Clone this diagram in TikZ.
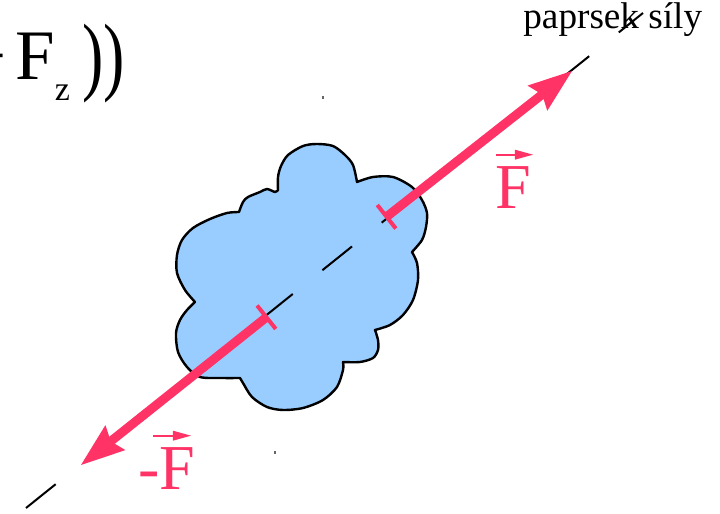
\documentclass[tikz,border=0pt]{standalone}
\usepackage{fontspec}
\setmainfont{Liberation Serif}
\usetikzlibrary{arrows.meta,calc}
\definecolor{forcered}{HTML}{FF3366}
\definecolor{bodyblue}{HTML}{99CCFF}

\begin{document}
\begin{tikzpicture}[
    x=0.5pt, y=-0.5pt,
    body/.style={draw=black, line width=1.2pt, fill=bodyblue, line join=round},
    ray/.style={draw=black, line width=1pt, dash pattern=on 19pt off 19pt},
    force/.style={draw=forcered, line width=4.5pt, {Bar[width=15pt,line width=2pt]}-{Stealth[length=22pt,width=16pt,inset=3pt,line width=0pt]}},
    forcelabel/.style={text=forcered, font=\fontsize{32}{34}\selectfont, inner sep=0pt},
    vecarrow/.style={draw=forcered, line width=1pt, -{Triangle[length=9pt,width=5pt,line width=0pt]}},
    speck/.style={fill=black!60}
]
    \useasboundingbox (0,0) rectangle (720,514);
    \clip (0,0) rectangle (720,514);

    \draw[body] plot[smooth] coordinates {(278,190) (278,177) (281,166) (288,155) (303,146) (317,144) (333,146) (345,155) (353,165) (357,182)}
        -- plot[smooth] coordinates {(357,182) (373,177) (393,177) (412,187) (422,200) (427,213) (426,227) (422,240) (412,252)}
        -- plot[smooth] coordinates {(412,252) (417,263) (418,280) (413,300) (403,315) (390,325) (375,330)}
        -- plot[smooth] coordinates {(375,330) (378,340) (378,350) (373,358) (360,362) (343,362)}
        -- plot[smooth] coordinates {(343,362) (343,370) (337,387) (323,400) (303,408) (283,410) (267,407) (252,397) (243,383) (240,378)}
        -- plot[smooth] coordinates {(240,378) (222,378) (200,377) (187,367) (178,352) (176,333) (180,320) (187,310) (195,302)}
        -- plot[smooth] coordinates {(195,302) (185,290) (177,273) (177,255) (182,240) (193,228) (210,219) (227,213) (239,212)}
        -- plot[smooth] coordinates {(239,212) (243,202) (248,197) (260,192) (267,189) (275,192) (278,190)}
        -- cycle;

    \coordinate (rayA) at (26,508);
    \coordinate (rayB) at (643,13);
    \coordinate (fA) at (385,218);
    \coordinate (fB) at (572,71);
    \coordinate (mfA) at (268,316);
    \coordinate (mfB) at (81,465);

    \node[anchor=base west, inner sep=0pt, font=\fontsize{18.6}{20}\selectfont] (raylabel) at (523,29) {paprsek síly};
    \node[anchor=base west, inner sep=0pt, font=\fontsize{35.5}{40}\selectfont] (fzlabel) at (-34,80)
        {+\kern4.5pt F\raisebox{-10pt}{\fontsize{17}{19}\selectfont z}\kern6pt\raisebox{-2.5pt}{\scalebox{1}[1.36]{\fontsize{32}{34}\selectfont))}}};

    \draw[ray] (rayA) -- (rayB);
    \fill[speck] (322,96) rectangle (324,99);
    \fill[speck] (274,451) rectangle (276,454);

    \draw[force] (fA) -- (fB);
    \draw[force] (mfA) -- (mfB);

    \node[forcelabel, anchor=base west] (flabel) at (495,208) {F};
    \node[forcelabel, anchor=base west] (mflabel) at (138,490) {-F};
    \draw[vecarrow] ($(flabel.north west)+(1,-11)$) -- ($(flabel.north west)+(38,-11)$);
    \draw[vecarrow] ($(mflabel.north west)+(15,-12)$) -- ($(mflabel.north west)+(53,-12)$);
\end{tikzpicture}
\end{document}
